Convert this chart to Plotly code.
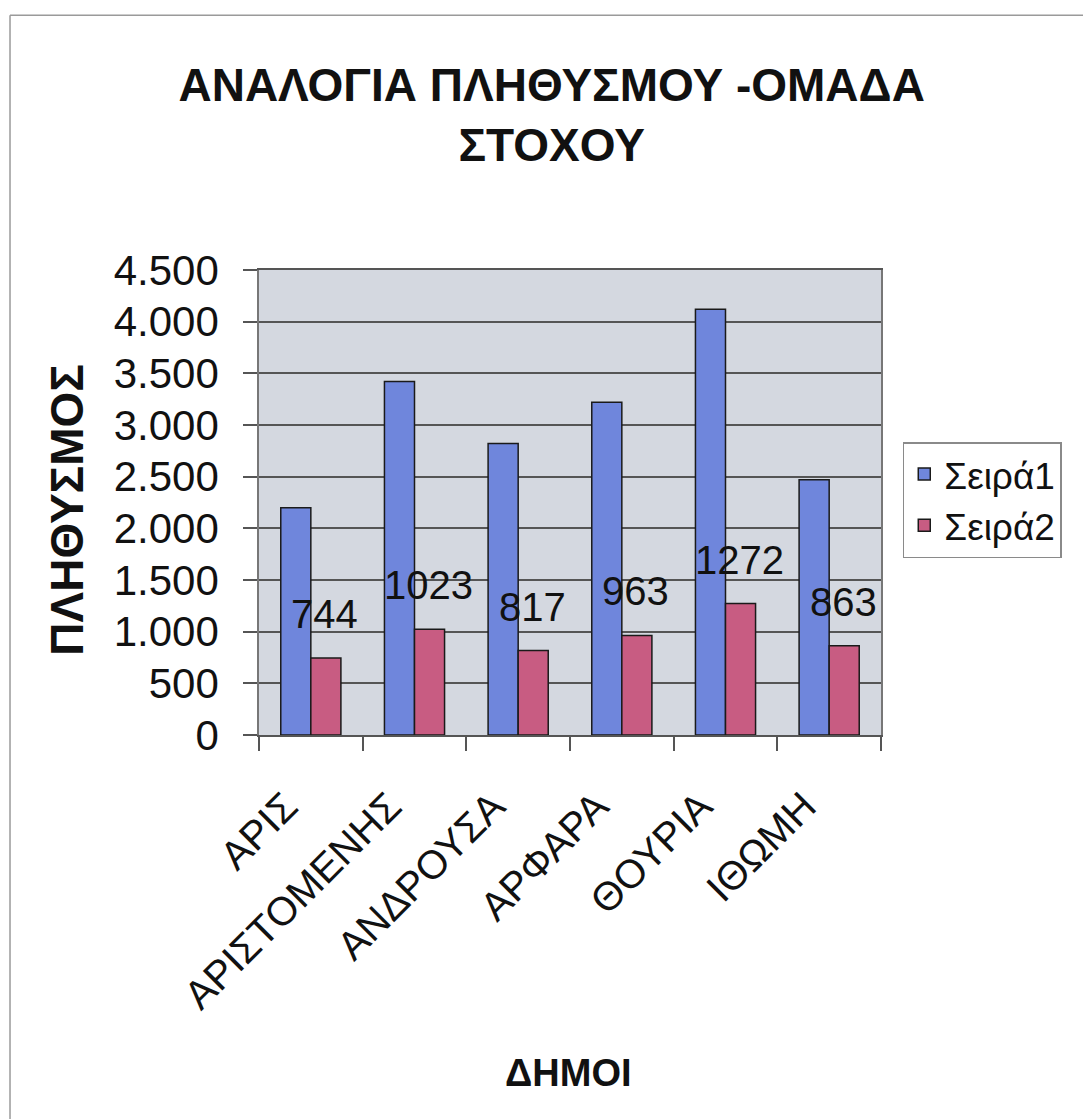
import plotly.graph_objects as go

categories = ["ΑΡΙΣ", "ΑΡΙΣΤΟΜΕΝΗΣ", "ΑΝΔΡΟΥΣΑ", "ΑΡΦΑΡΑ", "ΘΟΥΡΙΑ", "ΙΘΩΜΗ"]
series1 = [2200, 3420, 2820, 3220, 4120, 2470]
series2 = [744, 1023, 817, 963, 1272, 863]
series_names = ["Σειρά1", "Σειρά2"]
y_ticks = [0, 500, 1000, 1500, 2000, 2500, 3000, 3500, 4000, 4500]
y_ticktext = ["0", "500", "1.000", "1.500", "2.000", "2.500", "3.000", "3.500", "4.000", "4.500"]

FONT = "Arial, Liberation Sans, sans-serif"

fig = go.Figure()
fig.add_trace(go.Bar(
    x=categories, y=series1, name=series_names[0],
    marker=dict(color="#6f86dc", line=dict(color="#1a1a1a", width=1.5)),
))
fig.add_trace(go.Bar(
    x=categories, y=series2, name=series_names[1],
    marker=dict(color="#c85c82", line=dict(color="#1a1a1a", width=1.5)),
))

for c, v in zip(categories, series2):
    fig.add_annotation(
        x=c, y=v, xref="x", yref="y", text=str(v), showarrow=False,
        xshift=14, yshift=20, yanchor="bottom",
        font=dict(family=FONT, size=40, color="#111111"),
    )

fig.add_annotation(
    x=-0.309, y=0.484, xref="paper", yref="paper", text="<b>ΠΛΗΘΥΣΜΟΣ</b>",
    textangle=-90, showarrow=False, xanchor="center", yanchor="middle",
    font=dict(family=FONT, size=46, color="#111111"),
)
fig.add_annotation(
    x=0.497, y=-0.727, xref="paper", yref="paper", text="<b>ΔΗΜΟΙ</b>",
    showarrow=False, xanchor="center", yanchor="middle",
    font=dict(family=FONT, size=38, color="#111111"),
)

# chart frame: only top and left edges are visible in the reference
fig.add_shape(type="line", xref="paper", yref="paper",
              x0=-0.4003, x1=1.34, y0=1.548, y1=1.548,
              line=dict(color="#9a9a9a", width=1.5), layer="below")
fig.add_shape(type="line", xref="paper", yref="paper",
              x0=-0.4003, x1=-0.4003, y0=1.548, y1=-0.83,
              line=dict(color="#9a9a9a", width=1.5), layer="below")

fig.update_layout(
    width=1083, height=1111,
    margin=dict(l=251, r=210, t=262, b=384, autoexpand=False),
    paper_bgcolor="white",
    plot_bgcolor="#d4d8e0",
    barmode="group", bargap=0.42, bargroupgap=0,
    title=dict(
        text="<b>ΑΝΑΛΟΓΙΑ ΠΛΗΘΥΣΜΟΥ -ΟΜΑΔΑ<br>ΣΤΟΧΟΥ</b>",
        x=0.502, xanchor="center", xref="container",
        y=0.916, yanchor="middle", yref="container",
        font=dict(family=FONT, size=46, color="#111111"),
    ),
    font=dict(family=FONT, color="#111111"),
    legend=dict(
        x=1.035, y=0.630, xanchor="left", yanchor="top",
        bgcolor="white", bordercolor="#8a8a8a", borderwidth=1.5,
        font=dict(family=FONT, size=37, color="#111111"),
    ),
    showlegend=True,
)

fig.update_yaxes(
    range=[0, 4500], tickvals=y_ticks, ticktext=y_ticktext,
    showgrid=True, gridcolor="#555555", gridwidth=1.5,
    ticks="outside", ticklen=14, tickcolor="#555555", tickwidth=1.5,
    ticklabelstandoff=16,
    showline=True, linecolor="#777777", linewidth=1.5, mirror=True,
    tickfont=dict(family=FONT, size=42, color="#111111"),
    zeroline=False,
)
fig.update_xaxes(
    type="category", tickson="boundaries", tickangle=-45,
    ticks="outside", ticklen=14, tickcolor="#555555", tickwidth=1.5,
    ticklabelstandoff=30, ticklabelshift=-25,
    showline=True, linecolor="#555555", linewidth=1.5, mirror=True,
    showgrid=False,
    tickfont=dict(family=FONT, size=40, color="#111111"),
)

fig.write_html("out.html")
